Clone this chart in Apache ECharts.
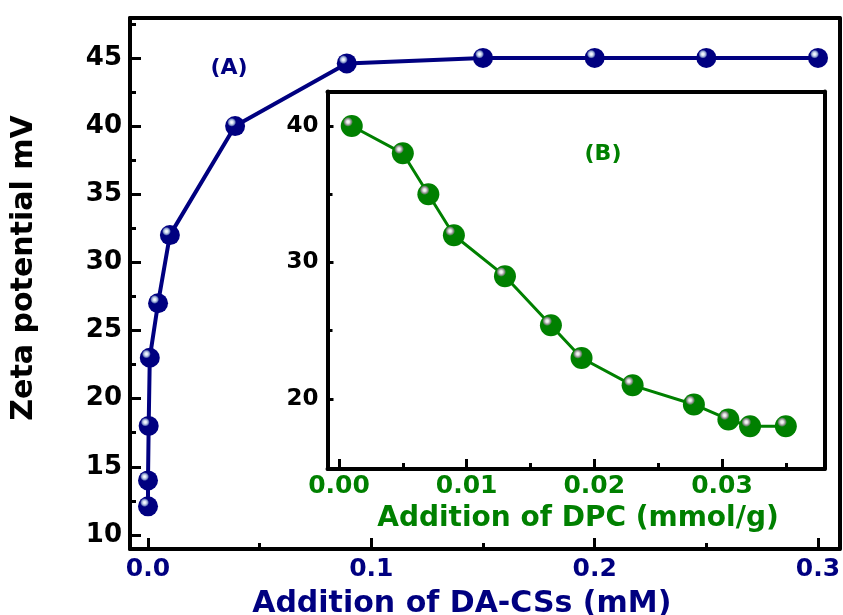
<!DOCTYPE html>
<html><head><meta charset="utf-8">
<script src="https://cdn.jsdelivr.net/npm/echarts@6/dist/echarts.min.js"></script>
<style>html,body{margin:0;padding:0;background:#fff}#c{width:843px;height:615px}</style>
</head><body><div id="c"></div>
<script>
// Main plot (A): zeta potential vs DA-CSs addition
const mainX = [0, 0, 0.0003, 0.0008, 0.0045, 0.0098, 0.039, 0.089, 0.15, 0.2, 0.25, 0.3];
const mainY = [12.1, 14.0, 18.0, 23.0, 27.0, 32.0, 40.0, 44.6, 45.0, 45.0, 45.0, 45.0];
// Inset (B): zeta potential vs DPC addition
const insetX = [0.001, 0.005, 0.007, 0.009, 0.013, 0.0166, 0.019, 0.023, 0.0278, 0.0305, 0.0322, 0.035];
const insetY = [40, 38, 35, 32, 29, 25.4, 23, 21, 19.6, 18.5, 18, 18];
// Ticks
const mainXTicks = [0, 0.1, 0.2, 0.3];
const mainXMinor = [0.05, 0.15, 0.25];
const mainYTicks = [10, 15, 20, 25, 30, 35, 40, 45];
const mainYMinor = [12.5, 17.5, 22.5, 27.5, 32.5, 37.5, 42.5, 47.5];
const insetXTicks = [0, 0.01, 0.02, 0.03];
const insetXMinor = [0.005, 0.015, 0.025, 0.035];
const insetYTicks = [20, 30, 40];
const insetYMinor = [25, 35];
// Texts
const mainXTitle = 'Addition of DA-CSs (mM)';
const mainYTitle = 'Zeta potential mV';
const insetXTitle = 'Addition of DPC (mmol/g)';
const labelA = '(A)';
const labelB = '(B)';

const NAVY = '#000080', GREEN = '#008000', FONT = 'DejaVu Sans';
const MAIN_RANGE = {xmin: -0.00806, xmax: 0.30963, ymin: 8.97, ymax: 47.93};
const INSET_RANGE = {xmin: -0.0009, xmax: 0.03803, ymin: 14.87, ymax: 42.53};

function sphere(base, mid, hl) {
  return {type: 'radial', x: 0.33, y: 0.31, r: 0.5, colorStops: [
    {offset: 0, color: '#ffffff'}, {offset: 0.14, color: hl}, {offset: 0.3, color: mid},
    {offset: 0.44, color: base}, {offset: 1, color: base}]};
}

function labelAxis(grid, min, max, pos, ticks, len, labelOpt, extra) {
  return Object.assign({
    type: 'value', gridIndex: grid, min: min, max: max, position: pos,
    axisLine: {show: true, onZero: false, lineStyle: {color: '#000', width: 4}},
    axisTick: {show: true, inside: true, length: len, customValues: ticks, lineStyle: {color: '#000', width: 3}},
    axisLabel: Object.assign({customValues: ticks, fontFamily: FONT, fontWeight: 'bold'}, labelOpt),
    splitLine: {show: false}
  }, extra || {});
}
function tickAxis(grid, min, max, pos, ticks, len) {
  return {
    type: 'value', gridIndex: grid, min: min, max: max, position: pos,
    axisLine: {show: false, onZero: false},
    axisTick: {show: true, inside: true, length: len, customValues: ticks, lineStyle: {color: '#000', width: 3}},
    axisLabel: {show: false}, splitLine: {show: false}
  };
}
function frameAxis(grid, min, max, pos) {
  return {
    type: 'value', gridIndex: grid, min: min, max: max, position: pos,
    axisLine: {show: true, onZero: false, lineStyle: {color: '#000', width: 4}},
    axisTick: {show: false}, axisLabel: {show: false}, splitLine: {show: false}
  };
}

const M = MAIN_RANGE, I = INSET_RANGE;
const option = {
  animation: false,
  backgroundColor: '#fff',
  grid: [
    {left: 130, top: 18, right: 3.5, bottom: 66, outerBoundsMode: 'none'},
    {left: 327.5, top: 91.5, width: 497, height: 377.5, show: true, backgroundColor: '#fff', borderWidth: 0, outerBoundsMode: 'none'}
  ],
  xAxis: [
    labelAxis(0, M.xmin, M.xmax, 'bottom', mainXTicks, 11,
      {color: NAVY, fontSize: 25, margin: 8, formatter: v => v.toFixed(1)},
      {name: mainXTitle, nameLocation: 'middle', nameGap: 40,
       nameTextStyle: {color: NAVY, fontFamily: FONT, fontWeight: 'bold', fontSize: 30, padding: [0, 46, 0, 0]}}),
    tickAxis(0, M.xmin, M.xmax, 'bottom', mainXMinor, 6),
    frameAxis(0, M.xmin, M.xmax, 'top'),
    labelAxis(1, I.xmin, I.xmax, 'bottom', insetXTicks, 10,
      {color: GREEN, fontSize: 25, margin: 5, formatter: v => v.toFixed(2)},
      {name: insetXTitle, nameLocation: 'middle', nameGap: 36,
       nameTextStyle: {color: GREEN, fontFamily: FONT, fontWeight: 'bold', fontSize: 28, padding: [0, 0, 0, 4]}}),
    tickAxis(1, I.xmin, I.xmax, 'bottom', insetXMinor, 6),
    frameAxis(1, I.xmin, I.xmax, 'top')
  ],
  yAxis: [
    labelAxis(0, M.ymin, M.ymax, 'left', mainYTicks, 11,
      {color: '#000', fontSize: 26, margin: 8},
      {name: mainYTitle, nameLocation: 'middle', nameGap: 91,
       nameTextStyle: {color: '#000', fontFamily: FONT, fontWeight: 'bold', fontSize: 30, padding: [0, 0, 0, 31]}}),
    tickAxis(0, M.ymin, M.ymax, 'left', mainYMinor, 6),
    frameAxis(0, M.ymin, M.ymax, 'right'),
    labelAxis(1, I.ymin, I.ymax, 'left', insetYTicks, 6,
      {color: '#000', fontSize: 23, margin: 9}),
    tickAxis(1, I.ymin, I.ymax, 'left', insetYMinor, 5),
    frameAxis(1, I.ymin, I.ymax, 'right')
  ],
  series: [
    {type: 'line', xAxisIndex: 0, yAxisIndex: 0,
     data: mainX.map((x, i) => [x, mainY[i]]),
     symbol: 'circle', symbolSize: 20, showAllSymbol: true,
     lineStyle: {color: NAVY, width: 4}, itemStyle: {color: sphere(NAVY, '#8a9ccc', '#dfe7f7')}},
    {type: 'line', xAxisIndex: 3, yAxisIndex: 3,
     data: insetX.map((x, i) => [x, insetY[i]]),
     symbol: 'circle', symbolSize: 22, showAllSymbol: true,
     lineStyle: {color: GREEN, width: 3}, itemStyle: {color: sphere(GREEN, '#8c8c8c', '#e2e2e2')}}
  ],
  graphic: [
    {type: 'text', x: 229, y: 68, z: 10, style: {text: labelA, fill: NAVY, font: 'bold 22px "DejaVu Sans"', align: 'center', verticalAlign: 'middle'}},
    {type: 'text', x: 603, y: 154, z: 10, style: {text: labelB, fill: GREEN, font: 'bold 22px "DejaVu Sans"', align: 'center', verticalAlign: 'middle'}}
  ]
};
const chart = echarts.init(document.getElementById('c'), null, {renderer: 'canvas'});
chart.setOption(option);
</script>
</body></html>
